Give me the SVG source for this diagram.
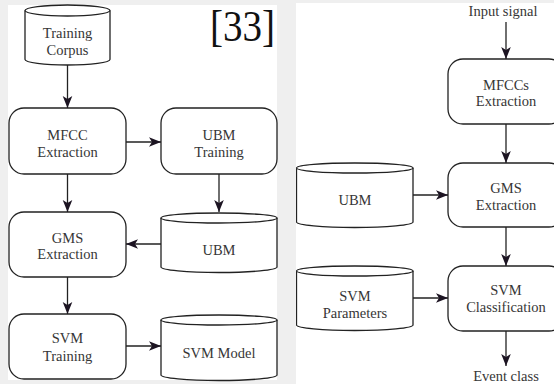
<svg xmlns="http://www.w3.org/2000/svg" width="554" height="384" viewBox="0 0 554 384">
  <defs>
    <marker id="arrow" markerUnits="userSpaceOnUse" markerWidth="14" markerHeight="12" viewBox="-13 -6 14 12" refX="0" refY="0" orient="auto">
      <path d="M0,0 L-12,-4.8 L-9,0 L-12,4.8 Z" fill="#1c1422"/>
    </marker>
    <clipPath id="rightPanel">
      <rect x="296" y="3" width="258" height="381"/>
    </clipPath>
  </defs>
  <style>
    .box { fill: #ffffff; stroke: #222; stroke-width: 1.3; }
    .edge { fill: none; stroke: #222; stroke-width: 1.3; marker-end: url(#arrow); }
    .lbl { font-family: "Liberation Serif", "Times New Roman", serif; font-size: 14.5px; fill: #363636; text-anchor: middle; }
    .cite { font-family: "Liberation Serif", "Times New Roman", serif; font-size: 44px; fill: #111; }
  </style>

  <!-- page background and the two panels -->
  <rect x="0" y="0" width="554" height="384" fill="#efefef"/>
  <rect x="8" y="5" width="269" height="375" fill="#ffffff"/>
  <rect x="296" y="3" width="258" height="381" fill="#ffffff"/>

  <text class="cite" x="210" y="41" textLength="65" lengthAdjust="spacingAndGlyphs">[33]</text>

  <!-- left panel: training pipeline -->
  <g id="training-corpus">
    <path class="box" d="M25,10.5 L25,59.5 A42.5,5.5 0 0 0 110,59.5 L110,10.5"/>
    <ellipse class="box" cx="67.5" cy="10.5" rx="42.5" ry="5.5"/>
    <text class="lbl" x="67.5" y="38">Training</text>
    <text class="lbl" x="67.5" y="55">Corpus</text>
  </g>
  <g id="mfcc-extraction">
    <rect class="box" x="9" y="108" width="117" height="66" rx="15" ry="15"/>
    <text class="lbl" x="67.5" y="140">MFCC</text>
    <text class="lbl" x="67.5" y="157">Extraction</text>
  </g>
  <g id="ubm-training">
    <rect class="box" x="161" y="108" width="116" height="66" rx="15" ry="15"/>
    <text class="lbl" x="219" y="140">UBM</text>
    <text class="lbl" x="219" y="157">Training</text>
  </g>
  <g id="gms-extraction">
    <rect class="box" x="9" y="212" width="117" height="65" rx="15" ry="15"/>
    <text class="lbl" x="67.5" y="243">GMS</text>
    <text class="lbl" x="67.5" y="259">Extraction</text>
  </g>
  <g id="ubm-store">
    <path class="box" d="M161,218 L161,267 A58,5.5 0 0 0 277,267 L277,218"/>
    <ellipse class="box" cx="219" cy="218" rx="58" ry="5"/>
    <text class="lbl" x="219" y="255">UBM</text>
  </g>
  <g id="svm-training">
    <rect class="box" x="9" y="314" width="117" height="65" rx="15" ry="15"/>
    <text class="lbl" x="67.5" y="343">SVM</text>
    <text class="lbl" x="67.5" y="361">Training</text>
  </g>
  <g id="svm-model">
    <path class="box" d="M161,320 L161,375 A58,5.5 0 0 0 277,375 L277,320"/>
    <ellipse class="box" cx="219" cy="320" rx="58" ry="5"/>
    <text class="lbl" x="219" y="358">SVM Model</text>
  </g>

  <!-- right panel: classification pipeline -->
  <g clip-path="url(#rightPanel)">
    <text id="input-signal" class="lbl" x="503" y="16">Input signal</text>
    <g id="mfccs-extraction">
      <rect class="box" x="448" y="59" width="116" height="65" rx="15" ry="15"/>
      <text class="lbl" x="506" y="90">MFCCs</text>
      <text class="lbl" x="506" y="106">Extraction</text>
    </g>
    <g id="gms-extraction-2">
      <rect class="box" x="448" y="163" width="116" height="64" rx="15" ry="15"/>
      <text class="lbl" x="506" y="193">GMS</text>
      <text class="lbl" x="506" y="210">Extraction</text>
    </g>
    <g id="ubm-store-2">
      <path class="box" d="M296.5,168 L296.5,222 A58.25,5.5 0 0 0 413,222 L413,168"/>
      <ellipse class="box" cx="354.75" cy="168" rx="58.25" ry="5"/>
      <text class="lbl" x="355" y="205">UBM</text>
    </g>
    <g id="svm-classification">
      <rect class="box" x="448" y="266" width="116" height="65" rx="15" ry="15"/>
      <text class="lbl" x="506" y="295">SVM</text>
      <text class="lbl" x="506" y="312">Classification</text>
    </g>
    <g id="svm-parameters">
      <path class="box" d="M296.5,271 L296.5,325 A58.25,5.5 0 0 0 413,325 L413,271"/>
      <ellipse class="box" cx="354.75" cy="271" rx="58.25" ry="5"/>
      <text class="lbl" x="355" y="301">SVM</text>
      <text class="lbl" x="355" y="318">Parameters</text>
    </g>
    <text id="event-class" class="lbl" x="506" y="381">Event class</text>
  </g>

  <!-- connectors -->
  <g id="connectors">
    <line class="edge" x1="67.5" y1="65" x2="67.5" y2="108"/>
    <line class="edge" x1="126" y1="142" x2="161" y2="142"/>
    <line class="edge" x1="67.5" y1="174" x2="67.5" y2="212"/>
    <line class="edge" x1="219" y1="174" x2="219" y2="212"/>
    <line class="edge" x1="161" y1="244" x2="126" y2="244"/>
    <line class="edge" x1="67.5" y1="277" x2="67.5" y2="314"/>
    <line class="edge" x1="126" y1="346" x2="161" y2="346"/>

    <line class="edge" x1="506" y1="22" x2="506" y2="59"/>
    <line class="edge" x1="506" y1="124" x2="506" y2="163"/>
    <line class="edge" x1="413" y1="195" x2="448" y2="195"/>
    <line class="edge" x1="506" y1="227" x2="506" y2="266"/>
    <line class="edge" x1="413" y1="298" x2="448" y2="298"/>
    <line class="edge" x1="506" y1="331" x2="506" y2="366"/>
  </g>
</svg>
